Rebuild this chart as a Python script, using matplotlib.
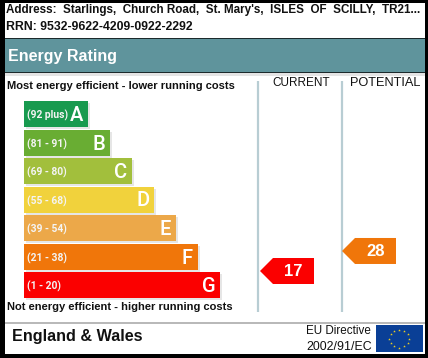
import matplotlib
matplotlib.use("Agg")
import matplotlib.pyplot as plt
from matplotlib.patches import Rectangle, Polygon
import numpy as np

# chart values
BAND_LETTERS = ["A", "B", "C", "D", "E", "F", "G"]
BAND_RANGES = ["(92 plus)", "(81 - 91)", "(69 - 80)", "(55 - 68)", "(39 - 54)", "(21 - 38)", "(1 - 20)"]
BAND_LENGTHS = [64, 86, 108, 130, 152, 174, 196]
BAND_COLOURS = ["#189a4f", "#69ad33", "#a2bf3c", "#f1d23c", "#eca849", "#f0760a", "#fb0000"]
CURRENT_SCORE = 17
POTENTIAL_SCORE = 28
CURRENT_COLOUR = "#fb0000"
POTENTIAL_COLOUR = "#f0760a"

ADDRESS = "Address:  Starlings,  Church Road,  St. Mary's,  ISLES  OF  SCILLY,  TR21..."
RRN = "RRN: 9532-9622-4209-0922-2292"

plt.rcParams['font.family'] = ['Liberation Sans', 'DejaVu Sans']

# everything is laid out in reference pixels
fig = plt.figure(figsize=(4.28, 3.58), dpi=100, facecolor="black")
ax = fig.add_axes([0, 0, 1, 1])
ax.set_xlim(0, 428)
ax.set_ylim(358, 0)
ax.axis("off")

# white card and header strip
ax.add_patch(Rectangle((5, 3), 420, 351, fc="white", ec="none", zorder=0))
ax.add_patch(Rectangle((5, 38), 420, 1, fc="#1c2a2c", ec="none", zorder=1))
ax.add_patch(Rectangle((5, 39), 420, 33, fc="#5f949c", ec="none", zorder=1))
ax.add_patch(Rectangle((5, 72), 420, 1, fc="#1c2a2c", ec="none", zorder=1))
ax.add_patch(Rectangle((5, 73), 420, 3, fc="#e4e4e4", ec="none", zorder=1))
ax.add_patch(Rectangle((5, 322), 420, 2, fc="#b9b9b9", ec="none", zorder=1))

ax.text(6, 10, ADDRESS, fontsize=8.35, fontweight="bold", color="#111111", va="center")
ax.text(6, 27, RRN, fontsize=8.85, fontweight="bold", color="#111111", va="center")
ax.text(8, 56, "Energy Rating", fontsize=11.5, fontweight="bold", color="white", va="center")
ax.text(7, 86, "Most energy efficient - lower running costs", fontsize=8.05, fontweight="bold", color="#111111", va="center")
ax.text(7, 307, "Not energy efficient - higher running costs", fontsize=8.0, fontweight="bold", color="#111111", va="center")
ax.text(272, 82.5, "CURRENT", fontsize=8.5, color="#111111", va="center")
ax.text(350, 82.5, "POTENTIAL", fontsize=9.2, color="#111111", va="center")

# column dividers
ax.plot([258, 258], [81, 312], color="#b8cdd3", lw=1.6, solid_capstyle="butt", zorder=1)
ax.plot([342, 342], [81, 312], color="#b8cdd3", lw=1.6, solid_capstyle="butt", zorder=1)

# rating bands
bar_y = 114 + 28.5 * np.arange(len(BAND_LETTERS))
ax.barh(bar_y + 2, BAND_LENGTHS, height=26, left=26, color="#e6e6e6", zorder=2)
ax.barh(bar_y, BAND_LENGTHS, height=26, left=24, color=BAND_COLOURS, zorder=3)
for y, length, letter, band in zip(bar_y, BAND_LENGTHS, BAND_LETTERS, BAND_RANGES):
    ax.text(27.5, y + 1.5, band, family="Roboto", fontsize=7.4, fontweight="bold", color="#f4f4f4", va="center", zorder=4)
    ax.text(24 + length - 11, y + 1.5, letter, family="Roboto", fontsize=14.5, fontweight="medium", color="white", ha="center", va="center", zorder=4)


def score_arrow(tip_x, score, colour):
    # arrow height follows the score, 1.82 px per point
    y = 271 - (score - CURRENT_SCORE) * 1.82
    pts = [(tip_x, y), (tip_x + 13, y - 13), (tip_x + 54, y - 13), (tip_x + 54, y + 13), (tip_x + 13, y + 13)]
    ax.add_patch(Polygon(pts, closed=True, fc=colour, ec="none", zorder=3))
    ax.text(tip_x + 33.5, y + 1, str(score), fontsize=12, fontweight="bold", color="white", ha="center", va="center", zorder=4)


score_arrow(260, CURRENT_SCORE, CURRENT_COLOUR)
score_arrow(342, POTENTIAL_SCORE, POTENTIAL_COLOUR)

# footer
ax.text(12, 336.5, "England & Wales", fontsize=11.6, fontweight="bold", color="#111111", va="center")
ax.text(306, 331, "EU Directive", fontsize=8.4, color="#111111", va="center")
ax.text(306, 346.5, "2002/91/EC", fontsize=8.9, color="#111111", va="center")

# EU flag
ax.add_patch(Rectangle((376, 325), 47, 27, fc="#0a3f96", ec="none", zorder=2))
angles = np.deg2rad(np.arange(0, 360, 30))
ax.scatter(399.5 + 10 * np.cos(angles), 338.5 + 9 * np.sin(angles), marker="*", s=4, color="#f2d21e", linewidths=0, zorder=3)

fig.savefig("out.png", dpi=100, facecolor=fig.get_facecolor())
